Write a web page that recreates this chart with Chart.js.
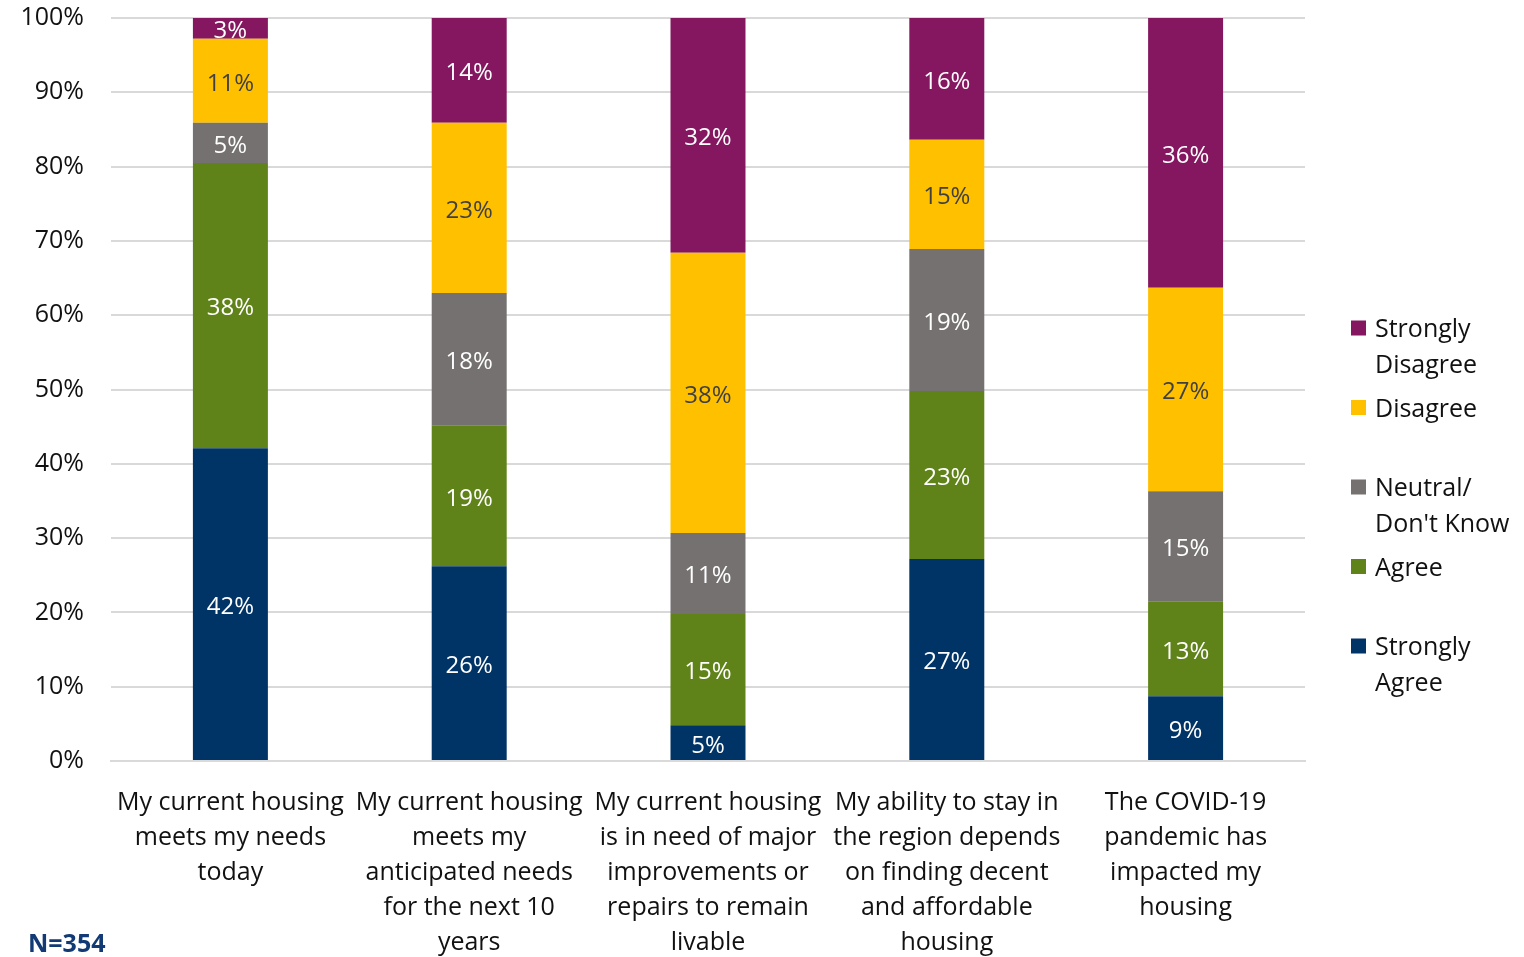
<!DOCTYPE html>
<html>
<head>
<meta charset="utf-8">
<script src="https://cdn.jsdelivr.net/npm/chart.js@4.4.1/dist/chart.umd.min.js"></script>
<style>
  html, body { margin: 0; padding: 0; background: #fff; }
  #wrap { position: relative; width: 1524px; height: 957px; }
  canvas { display: block; }
</style>
</head>
<body>
<div id="wrap"><canvas id="c" width="1524" height="957"></canvas></div>
<script>
const categories = [
  ["My current housing", "meets my needs", "today"],
  ["My current housing", "meets my", "anticipated needs", "for the next 10", "years"],
  ["My current housing", "is in need of major", "improvements or", "repairs to remain", "livable"],
  ["My ability to stay in", "the region depends", "on finding decent", "and affordable", "housing"],
  ["The COVID-19", "pandemic has", "impacted my", "housing"]
];
const stronglyAgree    = [42.1, 26.2, 4.8, 27.2, 8.7];
const agree            = [38.4, 19.0, 15.0, 22.6, 12.8];
const neutral          = [5.4, 17.8, 10.9, 19.1, 14.8];
const disagree         = [11.3, 22.9, 37.7, 14.7, 27.4];
const stronglyDisagree = [2.8, 14.1, 31.6, 16.4, 36.3];
const yTickLabels = ["0%","10%","20%","30%","40%","50%","60%","70%","80%","90%","100%"];
const legendLabels = [["Strongly","Disagree"],["Disagree"],["Neutral/","Don't Know"],["Agree"],["Strongly","Agree"]];
const footnote = "N=354";

const FONT = "'Open Sans', 'Noto Sans', sans-serif";

const datasets = [
  { label: "Strongly Agree", data: stronglyAgree, backgroundColor: "#003366", labelColor: "#ffffff" },
  { label: "Agree", data: agree, backgroundColor: "#5f8219", labelColor: "#ffffff" },
  { label: "Neutral/ Don't Know", data: neutral, backgroundColor: "#767171", labelColor: "#ffffff" },
  { label: "Disagree", data: disagree, backgroundColor: "#ffc000", labelColor: "#404040" },
  { label: "Strongly Disagree", data: stronglyDisagree, backgroundColor: "#841760", labelColor: "#ffffff" }
].map(d => Object.assign(d, { categoryPercentage: 1, barPercentage: 0.314, borderWidth: 0 }));

const dataLabels = {
  id: 'dataLabels',
  afterDatasetsDraw(chart) {
    const ctx = chart.ctx;
    ctx.save();
    ctx.font = "24px " + FONT;
    ctx.textAlign = 'center';
    ctx.textBaseline = 'middle';
    chart.data.datasets.forEach((ds, i) => {
      const meta = chart.getDatasetMeta(i);
      meta.data.forEach((bar, j) => {
        const v = ds.data[j];
        ctx.fillStyle = ds.labelColor;
        ctx.fillText(Math.round(v) + '%', bar.x, (bar.y + bar.base) / 2 + 3);
      });
    });
    ctx.restore();
  }
};

const customLegend = {
  id: 'customLegend',
  afterDraw(chart) {
    const ctx = chart.ctx;
    ctx.save();
    ctx.font = "25px " + FONT;
    ctx.textBaseline = 'middle';
    ctx.textAlign = 'left';
    const order = [4, 3, 2, 1, 0];
    order.forEach((dsIdx, k) => {
      const ds = chart.data.datasets[dsIdx];
      const cy = 328 + k * 79.5;
      ctx.fillStyle = ds.backgroundColor;
      ctx.fillRect(1351, cy - 7.5, 15, 15);
      ctx.fillStyle = '#111';
      legendLabels[k].forEach((line, li) => {
        ctx.fillText(line, 1375, cy + 2 + li * 35.5);
      });
    });
    ctx.font = "bold 25px " + FONT;
    ctx.fillStyle = '#123a74';
    ctx.fillText(footnote, 28, 945);
    ctx.restore();
  }
};

new Chart(document.getElementById('c'), {
  type: 'bar',
  data: { labels: categories, datasets },
  options: {
    responsive: false,
    animation: false,
    devicePixelRatio: 1,
    layout: { padding: { top: 18, right: 219, bottom: 0, left: 0 } },
    plugins: { legend: { display: false }, tooltip: { enabled: false } },
    scales: {
      x: {
        stacked: true,
        grid: { display: false, drawTicks: false },
        border: { display: true, color: '#d9d9d9', width: 2 },
        ticks: { color: '#111', font: { family: FONT, size: 25, lineHeight: 1.4 }, padding: 24, maxRotation: 0, autoSkip: false },
        afterFit(s) { s.height = 196; s.paddingLeft = 0; s.paddingRight = 0; }
      },
      y: {
        stacked: true,
        min: 0, max: 100,
        grid: { color: '#d9d9d9', lineWidth: 2, drawTicks: false },
        border: { display: false },
        ticks: {
          stepSize: 10, color: '#111', padding: 27,
          font: { family: FONT, size: 25 },
          callback: (v) => yTickLabels[Math.round(v / 10)]
        },
        afterFit(s) { s.width = 111; s.paddingTop = 0; s.paddingBottom = 0; }
      }
    }
  },
  plugins: [dataLabels, customLegend]
});
</script>
</body>
</html>
